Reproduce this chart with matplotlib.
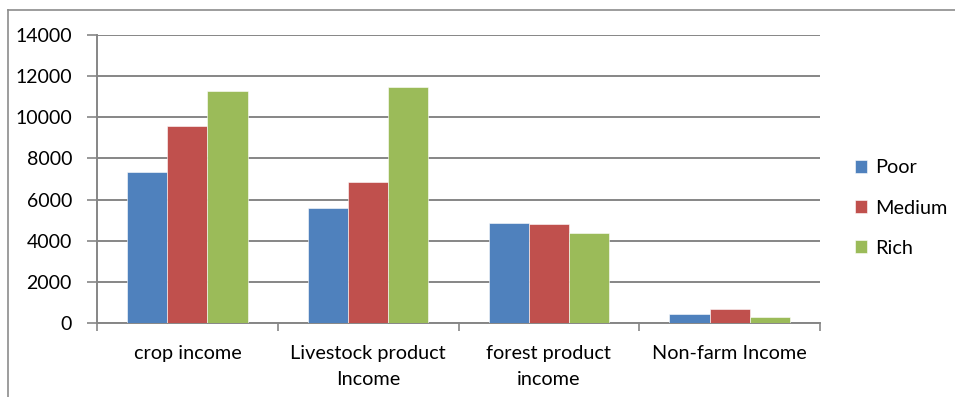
import matplotlib
matplotlib.use("Agg")
import matplotlib.pyplot as plt
from matplotlib.lines import Line2D
import numpy as np

categories = ["crop income", "Livestock product\nIncome", "forest product\nincome", "Non-farm Income"]
series_names = ["Poor", "Medium", "Rich"]
poor = [7330, 5580, 4850, 440]
medium = [9560, 6870, 4810, 700]
rich = [11280, 11490, 4360, 280]
colors = ["#4F81BD", "#C0504D", "#9BBB59"]
y_ticks = [0, 2000, 4000, 6000, 8000, 10000, 12000, 14000]

plt.rcParams['font.family'] = ['Lato', 'DejaVu Sans']
W, H = 955, 397
fig = plt.figure(figsize=(W / 100, H / 100), dpi=100)
ax = fig.add_axes([97 / W, (H - 323) / H, (820 - 97) / W, (323 - 35) / H])

grid_c = "#868686"
x = np.arange(len(categories))
bw = 1 / 4.5
for i, (vals, name) in enumerate(zip([poor, medium, rich], series_names)):
    ax.bar(x + (i - 1) * bw, vals, width=bw, color=colors[i], label=name,
           edgecolor="white", linewidth=0.4, zorder=3)

ax.set_xlim(-0.5, len(categories) - 0.5)
ax.set_ylim(0, 14000)
ax.set_yticks(y_ticks)
ax.set_yticklabels([str(v) for v in y_ticks], fontsize=14, color="black")
ax.yaxis.grid(True, color=grid_c, linewidth=1.4, zorder=0)
ax.set_axisbelow(True)
ax.tick_params(axis="y", length=7, width=1.2, color=grid_c, pad=11)

ax.set_xticks(x)
ax.set_xticklabels(categories, fontsize=14.3, linespacing=1.6)
ax.tick_params(axis="x", which="major", length=0, pad=16)
ax.set_xticks(np.arange(len(categories) + 1) - 0.5, minor=True)
ax.tick_params(axis="x", which="minor", length=6, width=1.2, color=grid_c)

for s in ["top", "right"]:
    ax.spines[s].set_visible(False)
for s in ["left", "bottom"]:
    ax.spines[s].set_color(grid_c)
    ax.spines[s].set_linewidth(1.4)

# chart border
fig.add_artist(Line2D([8 / W, 1.0], [1 - 10 / H, 1 - 10 / H], transform=fig.transFigure,
                      color="#8c8c8c", linewidth=1.2))
fig.add_artist(Line2D([8 / W, 8 / W], [0, 1 - 10 / H], transform=fig.transFigure,
                      color="#8c8c8c", linewidth=1.2))

leg = ax.legend(loc="center left", bbox_to_anchor=(855 / W, (H - 208) / H),
                bbox_transform=fig.transFigure, frameon=False, fontsize=14.3,
                handlelength=0.6, handleheight=0.6, handletextpad=0.4,
                labelspacing=1.16, borderpad=0, borderaxespad=0)

fig.savefig("out.png", dpi=100)
